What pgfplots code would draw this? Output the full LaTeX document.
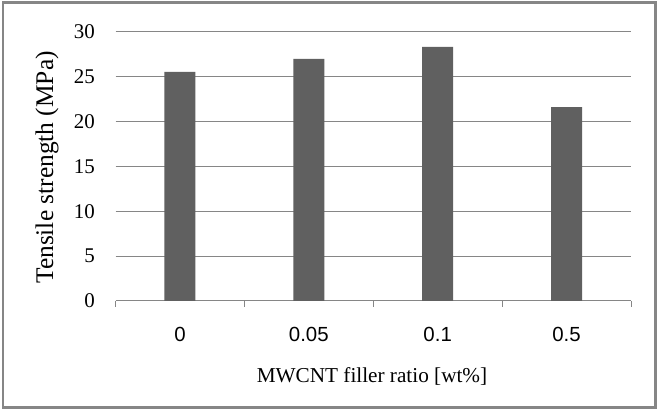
\documentclass[border=0pt]{standalone}
\usepackage{fontspec}
\setmainfont{Liberation Serif}
\newfontfamily\arialfont{Liberation Sans}
\usepackage{pgfplots}
\pgfplotsset{compat=1.18}
\definecolor{barcol}{RGB}{96,96,96}
\definecolor{gridcol}{RGB}{134,134,134}
\begin{document}
\begin{tikzpicture}
\useasboundingbox (0,0) rectangle (659bp,411bp);
\fill[white] (0,0) rectangle (659bp,411bp);
\begin{axis}[
  at={(115.5bp,110bp)}, anchor=south west,
  scale only axis, width=515.5bp, height=269bp,
  xmin=-0.5, xmax=3.5, ymin=0, ymax=30,
  ytick={0,5,...,30},
  xtick={-0.5,0.5,1.5,2.5,3.5},
  xticklabels={0,0.05,0.1,0.5},
  x tick label as interval=true,
  axis line style={draw=none},
  xtick pos=lower,
  tick align=outside,
  major tick length=6bp,
  xtick style={draw=gridcol, line width=1bp},
  ytick style={draw=none},
  ymajorgrids,
  grid style={draw=gridcol, line width=1bp},
  /pgf/number format/assume math mode=true,
  yticklabel style={font=\fontsize{21}{21}\selectfont, anchor=east, inner sep=0pt, xshift=-14.5bp},
  xticklabel style={font=\arialfont\fontsize{20.5}{20.5}\selectfont, anchor=base, inner sep=0pt, yshift=-35bp},
  xlabel={MWCNT filler ratio [wt\%]},
  ylabel={Tensile strength (MPa)},
  xlabel style={font=\fontsize{21.3}{21.3}\selectfont, at={(axis description cs:0.4976,-0.3037)}, anchor=base, inner sep=0pt},
  ylabel style={font=\fontsize{25.5}{25.5}\selectfont, at={(axis description cs:-0.1212,0.4963)}, anchor=base, rotate=0, inner sep=0pt},
  ybar, bar width=31bp,
]
\addplot[fill=barcol, draw=none] coordinates {(0,25.54) (1,26.99) (2,28.33) (3,21.63)};
\end{axis}
\draw[gridcol, line width=2.5bp] (2.8bp,3.3bp) rectangle (655.3bp,408.5bp);
\end{tikzpicture}
\end{document}
